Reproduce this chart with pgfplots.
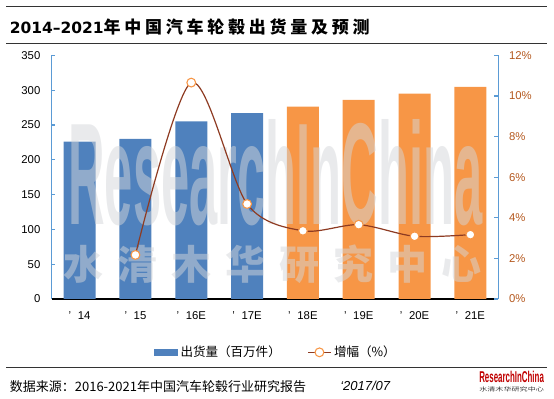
\documentclass[border=0pt]{standalone}
\usepackage{fontspec}
\usepackage{graphicx}
\usepackage{pgfplots}
\pgfplotsset{compat=1.18}
\setmainfont{Liberation Sans}
\newfontfamily\cjk{Noto Sans CJK SC}
\newfontfamily\cjkt{Noto Sans CJK SC}[LetterSpace=22]
\newfontfamily\cjkw{Noto Sans CJK SC}[LetterSpace=35]
\newfontfamily\dejab{DejaVu Sans}
\definecolor{barblue}{HTML}{4F81BD}
\definecolor{barorange}{HTML}{F79646}
\definecolor{axblue}{HTML}{5B9BD5}
\definecolor{linebrown}{HTML}{8E3B22}
\definecolor{pctcol}{HTML}{B4581E}
\definecolor{wm}{HTML}{D4D6D9}
\definecolor{rulegray}{HTML}{333333}
\definecolor{logored}{HTML}{C00000}
\begin{document}
\begin{tikzpicture}
\useasboundingbox (0pt,0pt) rectangle (415.5pt,299.25pt);
% title and rules
\draw[rulegray, line width=1pt] (4.8pt,294.45pt) -- (410.25pt,294.45pt);
\draw[rulegray, line width=1pt] (4.8pt,266.4pt) -- (410.25pt,266.4pt);
\node[anchor=west, inner sep=0pt] at (7.2pt,279.2pt) {\fontsize{11.6}{14}\selectfont\dejab\bfseries 2014–2021\cjkt\fontsize{12.75}{14}\selectfont 年中国汽车轮毂出货量及预测};
% bars
\begin{axis}[
  at={(38.775pt,75pt)}, anchor=south west, scale only axis,
  width=334.95pt, height=182.7pt,
  xmin=-0.5, xmax=7.5, ymin=0, ymax=350,
  axis x line*=bottom, axis y line*=left,
  axis line style={-},
  x axis line style={black, line width=1pt},
  y axis line style={axblue, line width=0.8pt},
  ytick={0,50,...,350},
  xtick={0,...,7},
  xticklabels={{’\hspace{5pt}14},{’\hspace{5pt}15},{’\hspace{5pt}16E},{’\hspace{5pt}17E},{’\hspace{5pt}18E},{’\hspace{5pt}19E},{’\hspace{5pt}20E},{’\hspace{5pt}21E}},
  x tick style={draw=none},
  y tick style={axblue, line width=0.8pt},
  tick align=inside,
  major tick length=2.5pt,
  tick label style={font=\fontsize{8.5}{10}\selectfont},
  /pgf/number format/assume math mode=true,
  yticklabel style={xshift=-5pt},
  xticklabel style={yshift=-6pt},
  legend style={at={(0.503,-0.219)}, anchor=center, draw=none, fill=none,
    legend columns=2, font=\fontsize{9.4}{11}\selectfont\cjk,
    /tikz/every even column/.append style={column sep=18pt},
    inner sep=0pt},
  legend cell align=left,
]
\addplot[ybar, bar width=24pt, bar shift=0pt, fill=barblue, draw=none,
  legend image code/.code={\fill[barblue] (0pt,-2.8pt) rectangle (17.7pt,2.8pt);}]
  coordinates {(0,226) (1,230) (2,255.3) (3,267.2)};
\addlegendentry{出货量（百万件）}
\addplot[ybar, bar width=24pt, bar shift=0pt, fill=barorange, draw=none, forget plot]
  coordinates {(4,276.3) (5,286) (6,295) (7,304.6)};
\addlegendimage{linebrown, line width=0.9pt, mark=*, mark size=3.3pt, mark options={draw=barorange, fill=white, line width=0.8pt}}
\addlegendentry{增幅（\%）}
\end{axis}
% watermark
\node[anchor=base west, inner sep=0pt, text=wm, text opacity=0.5] at (51pt,130.5pt) {\resizebox{310.5pt}{78.75pt}{\bfseries ResearchInChina}};
\node[anchor=west, inner sep=0pt, text=wm, text opacity=0.5] at (47.25pt,100.9pt) {\cjkw\bfseries\fontsize{30}{32}\selectfont 水清木华研究中心};
% growth line
\begin{axis}[
  at={(38.775pt,75pt)}, anchor=south west, scale only axis,
  width=334.95pt, height=182.7pt,
  xmin=-0.5, xmax=7.5, ymin=0, ymax=12,
  axis x line=none, axis y line*=right,
  axis line style={-, axblue, line width=0.8pt},
  ytick={0,2,...,12},
  yticklabel={\pgfmathprintnumber{\tick}\%},
  /pgf/number format/assume math mode=true,
  yticklabel style={xshift=4.5pt, text=pctcol, font=\fontsize{8.5}{10}\selectfont},
  tick align=inside, major tick length=3pt,
  y tick style={axblue, line width=0.8pt},
]
\addplot[smooth, linebrown, line width=0.9pt, mark=*, mark size=3.3pt,
  mark options={draw=barorange, fill=white, line width=0.8pt}]
  coordinates {(1,2.17) (2,10.66) (3,4.68) (4,3.36) (5,3.66) (6,3.09) (7,3.17)};
\end{axis}
% footer
\draw[rulegray, line width=1pt] (4.8pt,23.7pt) -- (410.25pt,23.7pt);
\node[anchor=west, inner sep=0pt] at (7.2pt,9.5pt) {\cjk\fontsize{9.75}{11}\selectfont 数据来源：2016-2021年中国汽车轮毂行业研究报告};
\node[anchor=west, inner sep=0pt] at (255pt,9.5pt) {\fontsize{9.75}{11}\selectfont\itshape ‘2017/07};
\node[anchor=south west, inner sep=0pt] at (359.25pt,12pt) {\resizebox{48.5pt}{8.5pt}{\bfseries\color{logored}ResearchInChina}};
\node[anchor=north west, inner sep=0pt] at (359.25pt,9pt) {\resizebox{48.5pt}{3.5pt}{\cjk\color{rulegray}水清木华研究中心}};
\end{tikzpicture}
\end{document}
